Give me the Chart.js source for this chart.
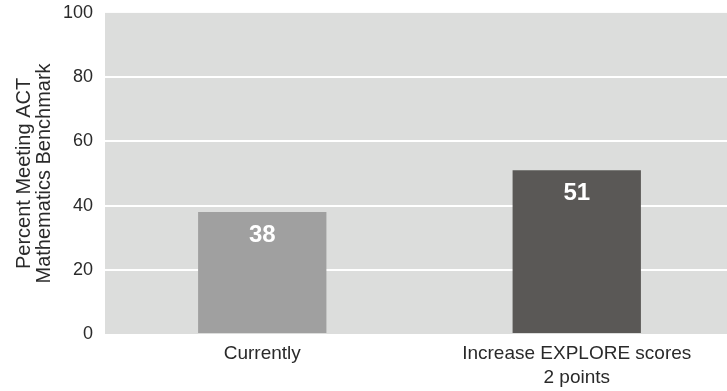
<!DOCTYPE html>
<html>
<head>
<meta charset="utf-8">
<script src="https://cdn.jsdelivr.net/npm/chart.js@4"></script>
<style>
    html, body { margin: 0; padding: 0; overflow: hidden; background: #ffffff; }
    #caixa { width: 734px; height: 391px; }
</style>
</head>
<body>
<div id="caixa"><canvas id="grafico"></canvas></div>
<script>
const categorias = ["Currently", ["Increase EXPLORE scores", "2 points"]];
const percentuais = [38, 51];
const coresDasBarras = ["#a0a0a0", "#5a5856"];
const tituloEixoY = ["Percent Meeting ACT", "Mathematics Benchmark"];
const ticksEixoY = [0, 20, 40, 60, 80, 100];

const fonte = "'Liberation Sans', Arial, sans-serif";

const fundoDaArea = {
    id: "fundoDaArea",
    beforeDraw(chart) {
        const { ctx, chartArea } = chart;
        ctx.save();
        ctx.fillStyle = "#dcdddc";
        ctx.fillRect(chartArea.left, chartArea.top, chartArea.right - chartArea.left, chartArea.bottom - chartArea.top);
        ctx.restore();
    }
};

const rotulosDasBarras = {
    id: "rotulosDasBarras",
    afterDatasetsDraw(chart) {
        const ctx = chart.ctx;
        const meta = chart.getDatasetMeta(0);
        ctx.save();
        ctx.fillStyle = "#ffffff";
        ctx.font = "bold 24px " + fonte;
        ctx.textAlign = "center";
        ctx.textBaseline = "middle";
        meta.data.forEach((barra, i) => {
            ctx.fillText(String(percentuais[i]), barra.x, barra.y + 23);
        });
        ctx.restore();
    }
};

new Chart(document.querySelector("#grafico"), {
    type: "bar",
    data: {
        labels: categorias,
        datasets: [{
            data: percentuais,
            backgroundColor: coresDasBarras,
            categoryPercentage: 1,
            barPercentage: 0.408
        }]
    },
    options: {
        responsive: true,
        maintainAspectRatio: false,
        animation: false,
        layout: { padding: { top: 0, right: 0, bottom: 0, left: 0 } },
        plugins: {
            legend: { display: false },
            tooltip: { enabled: false }
        },
        scales: {
            x: {
                grid: { display: false, drawTicks: false },
                border: { display: false },
                ticks: {
                    color: "#2a2a2a",
                    font: { family: fonte, size: 19, lineHeight: 1.3 },
                    padding: 7,
                    maxRotation: 0
                },
                afterFit(escala) { escala.height = 57; }
            },
            y: {
                min: 0,
                max: 100,
                afterBuildTicks(escala) { escala.ticks = ticksEixoY.map(v => ({ value: v })); },
                grid: {
                    color: (c) => (c.tick && (c.tick.value === 0 || c.tick.value === 100)) ? "rgba(0,0,0,0)" : "#ffffff",
                    lineWidth: 2,
                    drawTicks: false
                },
                border: { display: false },
                ticks: {
                    color: "#2a2a2a",
                    font: { family: fonte, size: 18, lineHeight: 0.1 },
                    padding: 12
                },
                title: {
                    display: true,
                    text: tituloEixoY,
                    color: "#2a2a2a",
                    font: { family: fonte, size: 20, lineHeight: 1 },
                    padding: { top: 14, bottom: 0 }
                },
                afterFit(escala) { escala.width = 105; }
            }
        }
    },
    plugins: [fundoDaArea, rotulosDasBarras]
});
</script>
</body>
</html>
